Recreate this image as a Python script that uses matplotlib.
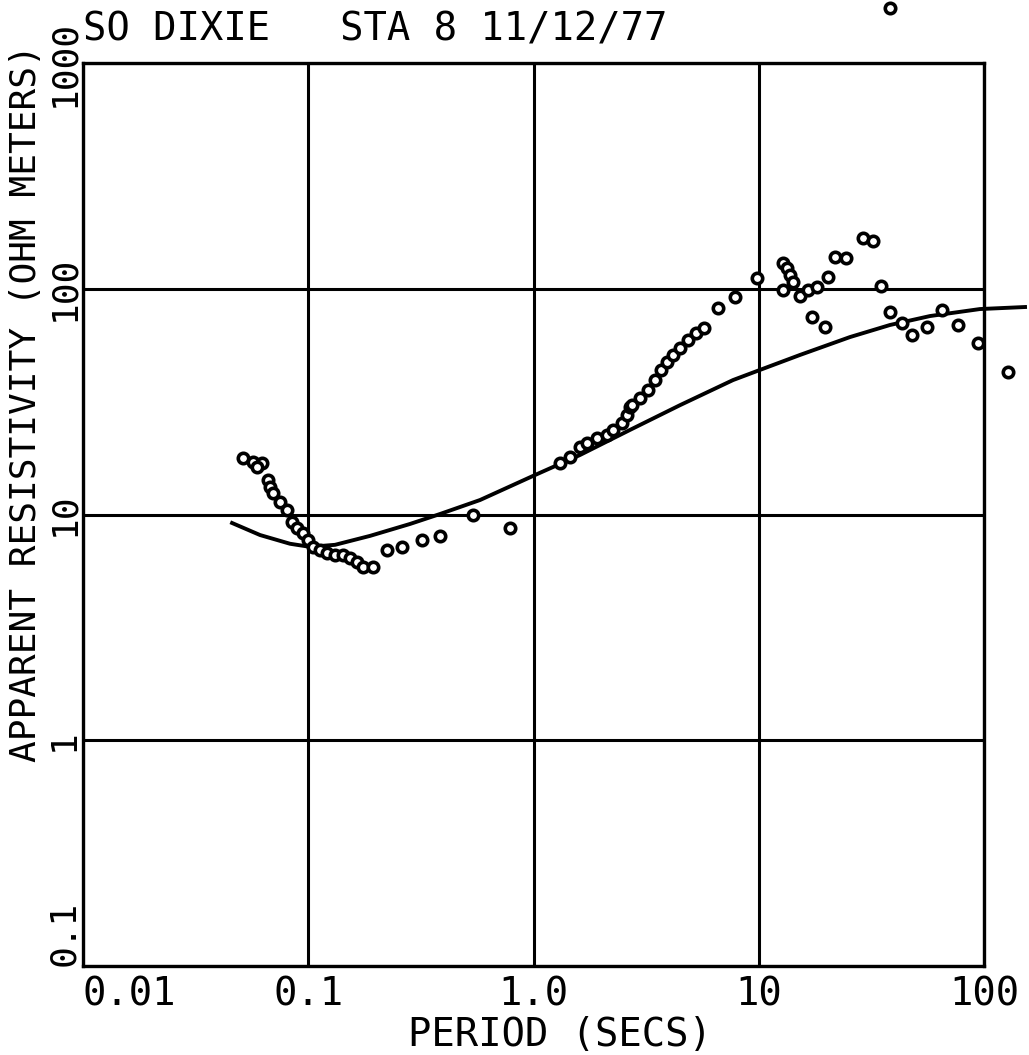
import matplotlib
matplotlib.use("Agg")
import matplotlib.pyplot as plt

# ---- data ----
period_obs = [0.0513, 0.0568, 0.0623, 0.0592, 0.0663, 0.0677, 0.0698, 0.0750, 0.0805,
              0.0847, 0.0891, 0.0948, 0.0997, 0.1049, 0.1127, 0.1211, 0.1315, 0.1427,
              0.1532, 0.1646, 0.1750, 0.1939,
              0.2236, 0.2608, 0.3199, 0.3845, 0.5388, 0.7865,
              1.311, 1.452, 1.609, 1.728, 1.913, 2.120, 2.254, 2.472, 2.601, 2.682,
              2.737, 2.970, 3.223, 3.462, 3.681, 3.914, 4.161, 4.471, 4.852, 5.264,
              5.711, 6.593, 7.845, 9.822,
              12.81, 13.35, 13.76, 14.19, 12.81, 15.24, 16.54, 18.14, 20.30, 17.23,
              19.68, 21.81, 24.40, 29.03, 32.15, 34.89, 38.25, 43.25, 47.92, 55.85,
              65.12, 76.65, 94.06, 127.8, 38.25]
rho_obs = [17.8, 17.1, 16.9, 16.2, 14.2, 13.2, 12.45, 11.4, 10.5,
           9.26, 8.71, 8.28, 7.71, 7.18, 6.96, 6.75, 6.61, 6.61,
           6.42, 6.16, 5.85, 5.85,
           6.96, 7.18, 7.71, 8.04, 9.95, 8.71,
           16.9, 17.98, 19.9, 20.7, 21.8, 22.5, 23.7, 25.4, 27.6, 29.9,
           30.5, 32.8, 35.6, 39.4, 43.7, 47.4, 50.9, 54.6, 59.3, 63.7,
           67.0, 82.2, 91.9, 111.6,
           130.1, 123.6, 115.1, 107.1, 98.7, 92.9, 98.7, 101.8, 112.7, 75.0,
           67.7, 138.2, 136.9, 168.0, 162.9, 102.8, 78.9, 70.5, 62.4, 67.7,
           80.5, 69.1, 57.5, 42.8, 1752.0]

period_model = [0.0459, 0.0611, 0.0830, 0.1018, 0.1315, 0.1880, 0.2830, 0.3845, 0.5787,
                1.016, 1.609, 2.682, 4.471, 7.687, 10.13, 15.24, 25.42, 38.25, 57.6,
                95.98, 152.1]
rho_model = [9.17, 8.11, 7.42, 7.19, 7.34, 8.04, 9.08, 10.05, 11.59,
             14.96, 18.35, 23.7, 30.5, 39.4, 43.7, 50.9, 61.1, 69.1, 75.7,
             81.3, 83.0]

xticks = [0.01, 0.1, 1.0, 10, 100]
xticklabels = ["0.01", "0.1", "1.0", "10", "100"]
yticks = [0.1, 1, 10, 100, 1000]
yticklabels = ["0.1", "1", "10", "100", "1000"]

title = "SO DIXIE   STA 8 11/12/77"
xlabel = "PERIOD (SECS)"
ylabel = "APPARENT RESISTIVITY (OHM METERS)"

FONT = "DejaVu Sans Mono"
FS = 28
FS_Y = 26

fig = plt.figure(figsize=(10.29, 10.55), dpi=100)
ax = fig.add_axes([83/1029, 1 - 966/1055, (984-83)/1029, (966-63)/1055])
ax.set_xscale("log")
ax.set_yscale("log")
ax.set_xlim(0.01, 100)
ax.set_ylim(0.1, 1000)

ax.grid(True, which="major", color="black", linewidth=2.2)
ax.minorticks_off()
for s in ax.spines.values():
    s.set_linewidth(2.4)

ax.plot(period_model, rho_model, color="black", linewidth=2.8, clip_on=False, zorder=3)
ax.plot(period_obs, rho_obs, linestyle="none", marker="o", markersize=7.5,
        markerfacecolor="white", markeredgecolor="black", markeredgewidth=2.6,
        clip_on=False, zorder=4)

ax.set_xticks(xticks)
ax.set_xticklabels(xticklabels, fontfamily=FONT, fontsize=FS)
ax.set_yticks(yticks)
ax.set_yticklabels(yticklabels, fontfamily=FONT, fontsize=FS_Y, rotation=90, va="center")
ax.tick_params(axis="both", length=0)
ax.tick_params(axis="x", pad=7)
ax.tick_params(axis="y", pad=1.5)
xl = ax.get_xticklabels()
xl[0].set_ha("left")
yl = ax.get_yticklabels()
yl[0].set_va("bottom")

ax.set_xlabel(xlabel, fontfamily=FONT, fontsize=FS)
ax.xaxis.set_label_coords(0.529, -0.0554)
ax.set_ylabel(ylabel, fontfamily=FONT, fontsize=FS_Y)
ax.yaxis.set_label_coords(-0.0444, 0.6235)

ax.text(0.0, 1.0 + 23/903, title, transform=ax.transAxes, fontfamily=FONT,
        fontsize=FS, ha="left", va="baseline")

fig.savefig("out.png", dpi=100)
